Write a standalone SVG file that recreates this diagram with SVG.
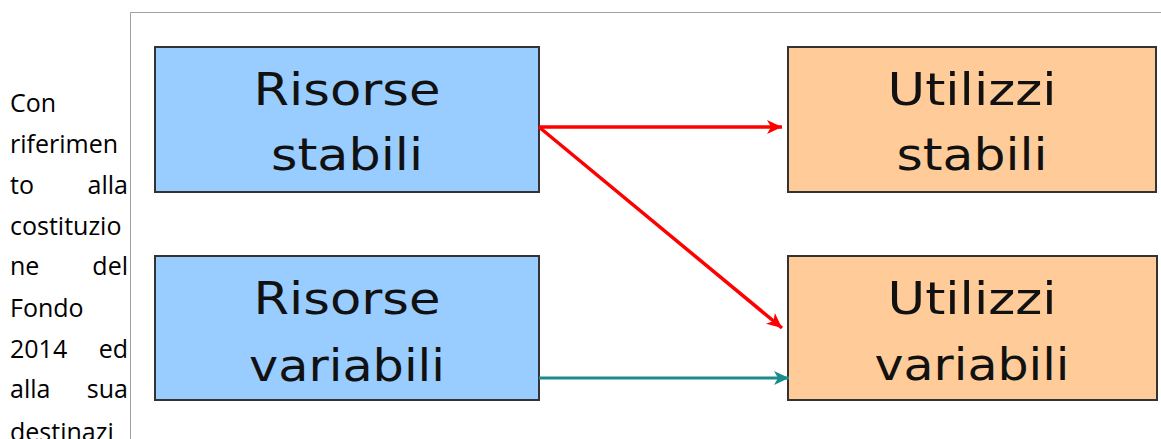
<svg xmlns="http://www.w3.org/2000/svg" width="1161" height="439" viewBox="0 0 1161 439">
<defs>
<style>
.body{font-family:"Open Sans","Liberation Sans",sans-serif;font-size:25px;fill:#000}
.box{stroke:#333;stroke-width:2}
.res{fill:#99ccff}
.use{fill:#ffcc99}
.lbl{font-family:"DejaVu Sans","Liberation Sans",sans-serif;font-size:45px;fill:#111;text-anchor:middle}
.red{stroke:#ff0000;stroke-width:3.5;fill:none}
.teal{stroke:#1a8c8c;stroke-width:3;fill:none}
</style>
<marker id="ar" markerUnits="userSpaceOnUse" markerWidth="18" markerHeight="16" refX="16" refY="8" orient="auto">
<path d="M1,1 L16,8 L1,15 L5,8 Z" fill="#ff0000"/>
</marker>
<marker id="at" markerUnits="userSpaceOnUse" markerWidth="18" markerHeight="16" refX="16" refY="8" orient="auto">
<path d="M1,1 L16,8 L1,15 L5,8 Z" fill="#1a8c8c"/>
</marker>
</defs>
<rect width="1161" height="439" fill="#ffffff"/>
<g id="paragraph" class="body">
<text x="10" y="112">Con</text>
<text x="10" y="153">riferimen</text>
<text x="10" y="194">to</text><text x="128" y="194" text-anchor="end">alla</text>
<text x="10" y="235">costituzio</text>
<text x="10" y="275">ne</text><text x="128" y="275" text-anchor="end">del</text>
<text x="10" y="317">Fondo</text>
<text x="10" y="358">2014</text><text x="128" y="358" text-anchor="end">ed</text>
<text x="10" y="398">alla</text><text x="128" y="398" text-anchor="end">sua</text>
<text x="10" y="441">destinazi</text>
</g>
<g id="frame">
<path d="M130.5,439 V12.5 H1161" fill="none" stroke="#a0a0a0" stroke-width="1"/>
</g>
<g id="risorse-stabili">
<rect class="box res" x="155" y="47" width="384" height="145"/>
<text class="lbl" x="347" y="105" textLength="187" lengthAdjust="spacingAndGlyphs">Risorse</text>
<text class="lbl" x="347" y="170" textLength="152" lengthAdjust="spacingAndGlyphs">stabili</text>
</g>
<g id="risorse-variabili">
<rect class="box res" x="155" y="256" width="384" height="144"/>
<text class="lbl" x="347" y="314" textLength="187" lengthAdjust="spacingAndGlyphs">Risorse</text>
<text class="lbl" x="347" y="381" textLength="196" lengthAdjust="spacingAndGlyphs">variabili</text>
</g>
<g id="utilizzi-stabili">
<rect class="box use" x="788" y="47" width="368" height="145"/>
<text class="lbl" x="972" y="105" textLength="169" lengthAdjust="spacingAndGlyphs">Utilizzi</text>
<text class="lbl" x="972" y="170" textLength="151" lengthAdjust="spacingAndGlyphs">stabili</text>
</g>
<g id="utilizzi-variabili">
<rect class="box use" x="788" y="256" width="369" height="144"/>
<text class="lbl" x="972" y="314" textLength="169" lengthAdjust="spacingAndGlyphs">Utilizzi</text>
<text class="lbl" x="972" y="380" textLength="195" lengthAdjust="spacingAndGlyphs">variabili</text>
</g>
<g id="connectors">
<path class="red" d="M539,127 H782" marker-end="url(#ar)"/>
<path class="red" d="M539,127 L782,328" marker-end="url(#ar)"/>
<path class="teal" d="M539,378 H789" marker-end="url(#at)"/>
</g>
</svg>
